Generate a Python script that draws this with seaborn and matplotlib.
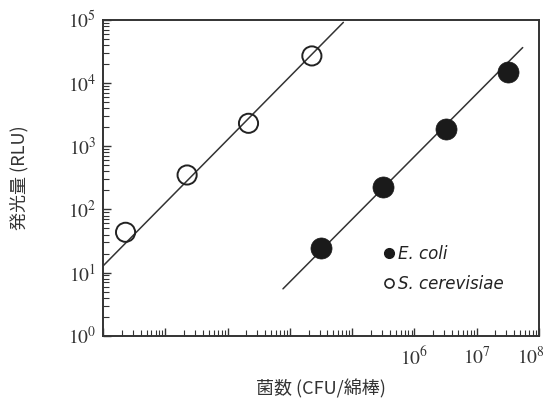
import numpy as np
import pandas as pd
import matplotlib
matplotlib.use("Agg")
import matplotlib.pyplot as plt
import matplotlib.transforms as mtransforms
import seaborn as sns
from matplotlib.lines import Line2D
from matplotlib.ticker import LogLocator, NullFormatter

# data (CFU/swab vs RLU)
sc_cfu = [23, 224, 2170, 22600]
sc_rlu = [43.5, 352, 2320, 27100]
ec_cfu = [32000, 318000, 3.24e6, 3.2e7]
ec_rlu = [24.3, 227, 1890, 15300]

# regression lines in log-log space: log10(RLU) = slope*log10(CFU) + icpt
sc_slope, sc_icpt = 1.0, 0.105
ec_slope, ec_icpt = 0.993, -3.12
sc_span = [1.0, 4.86]
ec_span = [3.89, 7.74]

xtick_labels = {6: r"$10^{6}$", 7: r"$10^{7}$", 8: r"$10^{8}$"}

sns.set_style("white")
plt.rcParams["font.family"] = ["Noto Sans CJK JP", "DejaVu Sans"]
plt.rcParams["mathtext.fontset"] = "stix"

df = pd.DataFrame({
    "cfu": sc_cfu + ec_cfu,
    "rlu": sc_rlu + ec_rlu,
    "sp": ["S. cerevisiae"] * 4 + ["E. coli"] * 4,
})

fig = plt.figure(figsize=(5.51, 4.03), dpi=100)
ax = fig.add_axes([0.187, 0.167, 0.791, 0.783])
ax.set_xscale("log")
ax.set_yscale("log")

lc = "#333333"
for slope, icpt, span in [(sc_slope, sc_icpt, sc_span), (ec_slope, ec_icpt, ec_span)]:
    lx = np.linspace(span[0], span[1], 50)
    sns.lineplot(x=10 ** lx, y=10 ** (slope * lx + icpt), ax=ax, color=lc, lw=1.1)

sns.scatterplot(data=df[df.sp == "S. cerevisiae"], x="cfu", y="rlu", ax=ax,
                marker="o", s=190, facecolor="none", edgecolor="#222222",
                linewidth=1.4, zorder=3)
sns.scatterplot(data=df[df.sp == "E. coli"], x="cfu", y="rlu", ax=ax,
                marker="o", s=230, color="#1a1a1a", edgecolor="#1a1a1a",
                linewidth=0.5, zorder=3)

ax.set_xlim(10, 1e8)
ax.set_ylim(1, 1e5)

# ticks
xmaj = [10.0 ** k for k in range(1, 9)]
ax.set_xticks(xmaj)
ax.set_xticklabels([xtick_labels.get(k, "") for k in range(1, 9)])
ax.xaxis.set_minor_locator(LogLocator(base=10, subs=np.arange(2, 10), numticks=20))
ax.xaxis.set_minor_formatter(NullFormatter())
ax.set_yticks([10.0 ** k for k in range(0, 6)])
ax.set_yticklabels([r"$10^{%d}$" % k for k in range(0, 6)])
ax.yaxis.set_minor_locator(LogLocator(base=10, subs=np.arange(2, 10), numticks=20))
ax.yaxis.set_minor_formatter(NullFormatter())

ax.tick_params(axis="both", which="both", bottom=True, left=True, top=False, right=False)
ax.tick_params(axis="both", which="major", direction="in", length=6, width=1,
               colors="#333333", labelsize=14, labelcolor="#333333")
ax.tick_params(axis="both", which="minor", direction="in", length=4, width=0.8,
               colors="#333333")
ax.tick_params(axis="x", which="major", pad=8)
ax.tick_params(axis="y", which="major", pad=5)

# the last x label sits against the figure edge, nudge it in a bit
last = ax.get_xticklabels()[-1]
last.set_transform(last.get_transform() +
                   mtransforms.ScaledTranslation(-6 / 72, 0, fig.dpi_scale_trans))

for s in ax.spines.values():
    s.set_visible(True)
    s.set_color("#333333")
    s.set_linewidth(1.4)

ax.set_xlabel("菌数 (CFU/綿棒)", fontsize=13, color="#333333", labelpad=7)
ax.set_ylabel("発光量 (RLU)", fontsize=13, color="#333333", labelpad=28)

handles = [
    Line2D([], [], marker="o", ls="none", color="#1a1a1a", markersize=7),
    Line2D([], [], marker="o", ls="none", markerfacecolor="none",
           markeredgecolor="#222222", markeredgewidth=1.2, markersize=6.5),
]
leg = ax.legend(handles, ["E. coli", "S. cerevisiae"], loc="upper left",
                bbox_to_anchor=(0.63, 0.31), frameon=False, handlelength=0.6,
                handletextpad=0.25, labelspacing=0.75, borderaxespad=0,
                prop={"family": "DejaVu Sans", "style": "italic", "size": 12})
for t in leg.get_texts():
    t.set_color("#222222")

fig.savefig("out.png", dpi=100)
